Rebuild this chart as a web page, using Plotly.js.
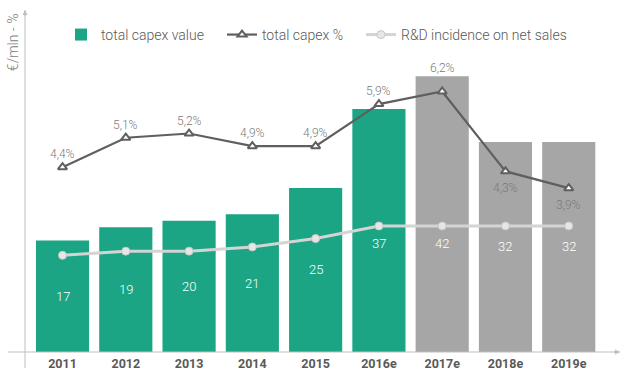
<!DOCTYPE html>
<html>
<head>
<meta charset="utf-8">
<script src="https://cdn.plot.ly/plotly-3.0.1.min.js"></script>
<style>html,body{margin:0;padding:0;background:#fff;}#chart{width:625px;height:386px;}</style>
</head>
<body>
<div id="chart"></div>
<script>
const years = ['2011','2012','2013','2014','2015','2016e','2017e','2018e','2019e'];
const capexValue = [17, 19, 20, 21, 25, 37, 42, 32, 32];
const capexPct = [4.4, 5.1, 5.2, 4.9, 4.9, 5.9, 6.2, 4.3, 3.9];
const rdIncidence = [2.3, 2.4, 2.4, 2.5, 2.7, 3.0, 3.0, 3.0, 3.0];
const firstForecast = 6;

const GREEN = '#1ba584', GREYBAR = '#a6a6a6', DARK = '#5f5f5f', LIGHT = '#d4d4d4';
const FONT = 'Roboto, sans-serif';
const Y1MAX = 52.1, Y2MAX = 8.14;
const fmt = v => v.toFixed(1).replace('.', ',') + '%';

const traces = [
  {
    type: 'bar', name: 'total capex value', x: years, y: capexValue, legend: 'legend',
    marker: {color: years.map((_, i) => i < firstForecast ? GREEN : GREYBAR)},
    hoverinfo: 'skip'
  },
  {
    type: 'scatter', mode: 'lines+markers', name: 'total capex %', x: years, y: capexPct,
    yaxis: 'y2', legend: 'legend2',
    line: {color: DARK, width: 2.2},
    marker: {symbol: 'triangle-up', size: 8, color: '#ffffff', line: {color: DARK, width: 2}},
    cliponaxis: false
  },
  {
    type: 'scatter', mode: 'lines+markers', name: 'R&D incidence on net sales', x: years, y: rdIncidence,
    yaxis: 'y2', legend: 'legend3',
    line: {color: LIGHT, width: 3},
    marker: {symbol: 'circle', size: 8, color: '#e6e6e6', line: {color: '#c8c8c8', width: 1}}
  }
];

// bar value labels
const annotations = capexValue.map((v, i) => ({
  x: i, y: Math.min(v / 2, 16.5), xref: 'x', yref: 'y',
  text: String(v), showarrow: false,
  font: {family: FONT, size: 13, color: '#ffffff', weight: 300}
}));
// percentage labels
capexPct.forEach((p, i) => {
  const barTop = capexValue[i] * Y2MAX / Y1MAX;
  let y = p, yshift = 4, yanchor = 'bottom';
  if (barTop > p && barTop - p < 0.5) { y = barTop; yshift = -1; }
  else if (barTop > p) { yshift = -8; yanchor = 'top'; }
  annotations.push({
    x: i, y: y, xref: 'x', yref: 'y2', yshift: yshift, yanchor: yanchor,
    text: fmt(p), showarrow: false,
    font: {family: FONT, size: 12, color: '#7a7a7a', weight: 300}
  });
});
annotations.push({
  xref: 'paper', yref: 'paper', x: -0.0202, y: 0.906, text: '€/mln - %', textangle: -90,
  xanchor: 'center', yanchor: 'middle',
  showarrow: false, font: {family: FONT, size: 14, color: '#808080', weight: 300}
});
annotations.push({
  xref: 'paper', yref: 'paper', x: 1, y: 0, ax: -8, ay: 0, showarrow: true,
  arrowhead: 2, arrowsize: 1, arrowwidth: 1, arrowcolor: '#bfbfbf', text: ''
});
annotations.push({
  xref: 'paper', yref: 'paper', x: 0, y: 1.0, ax: 0, ay: 8, showarrow: true,
  arrowhead: 2, arrowsize: 1, arrowwidth: 1, arrowcolor: '#bfbfbf', text: ''
});

const legendBase = {
  orientation: 'h', y: 0.927, xanchor: 'left', yanchor: 'middle',
  font: {family: FONT, size: 14, color: '#595959', weight: 300},
  itemwidth: 30, bgcolor: 'rgba(0,0,0,0)'
};

const layout = {
  width: 625, height: 386,
  margin: {l: 25, r: 5, t: 10, b: 34},
  paper_bgcolor: '#ffffff', plot_bgcolor: '#ffffff',
  font: {family: FONT, color: '#595959'},
  bargap: 0.16,
  showlegend: true,
  legend: Object.assign({}, legendBase, {x: 0.0605}),
  legend2: Object.assign({}, legendBase, {x: 0.3311}),
  legend3: Object.assign({}, legendBase, {x: 0.5647}),
  xaxis: {
    type: 'category', range: [-0.593, 8.81], showgrid: false, zeroline: false,
    showline: false, ticks: '', ticklabelstandoff: 2,
    tickfont: {family: FONT, size: 12.5, color: '#595959', weight: 700}
  },
  yaxis: {range: [0, Y1MAX], showgrid: false, zeroline: false, showticklabels: false, showline: false},
  yaxis2: {range: [0, Y2MAX], overlaying: 'y', side: 'right', showgrid: false, zeroline: false, showticklabels: false, showline: false},
  shapes: [
    {type: 'line', xref: 'paper', yref: 'paper', x0: -0.029, x1: 1, y0: 0, y1: 0, line: {color: '#bfbfbf', width: 1}},
    {type: 'line', xref: 'paper', yref: 'paper', x0: 0, x1: 0, y0: -0.047, y1: 1, line: {color: '#bfbfbf', width: 1}}
  ],
  annotations: annotations
};

Plotly.newPlot('chart', traces, layout, {displayModeBar: false, staticPlot: true});
</script>
</body>
</html>
